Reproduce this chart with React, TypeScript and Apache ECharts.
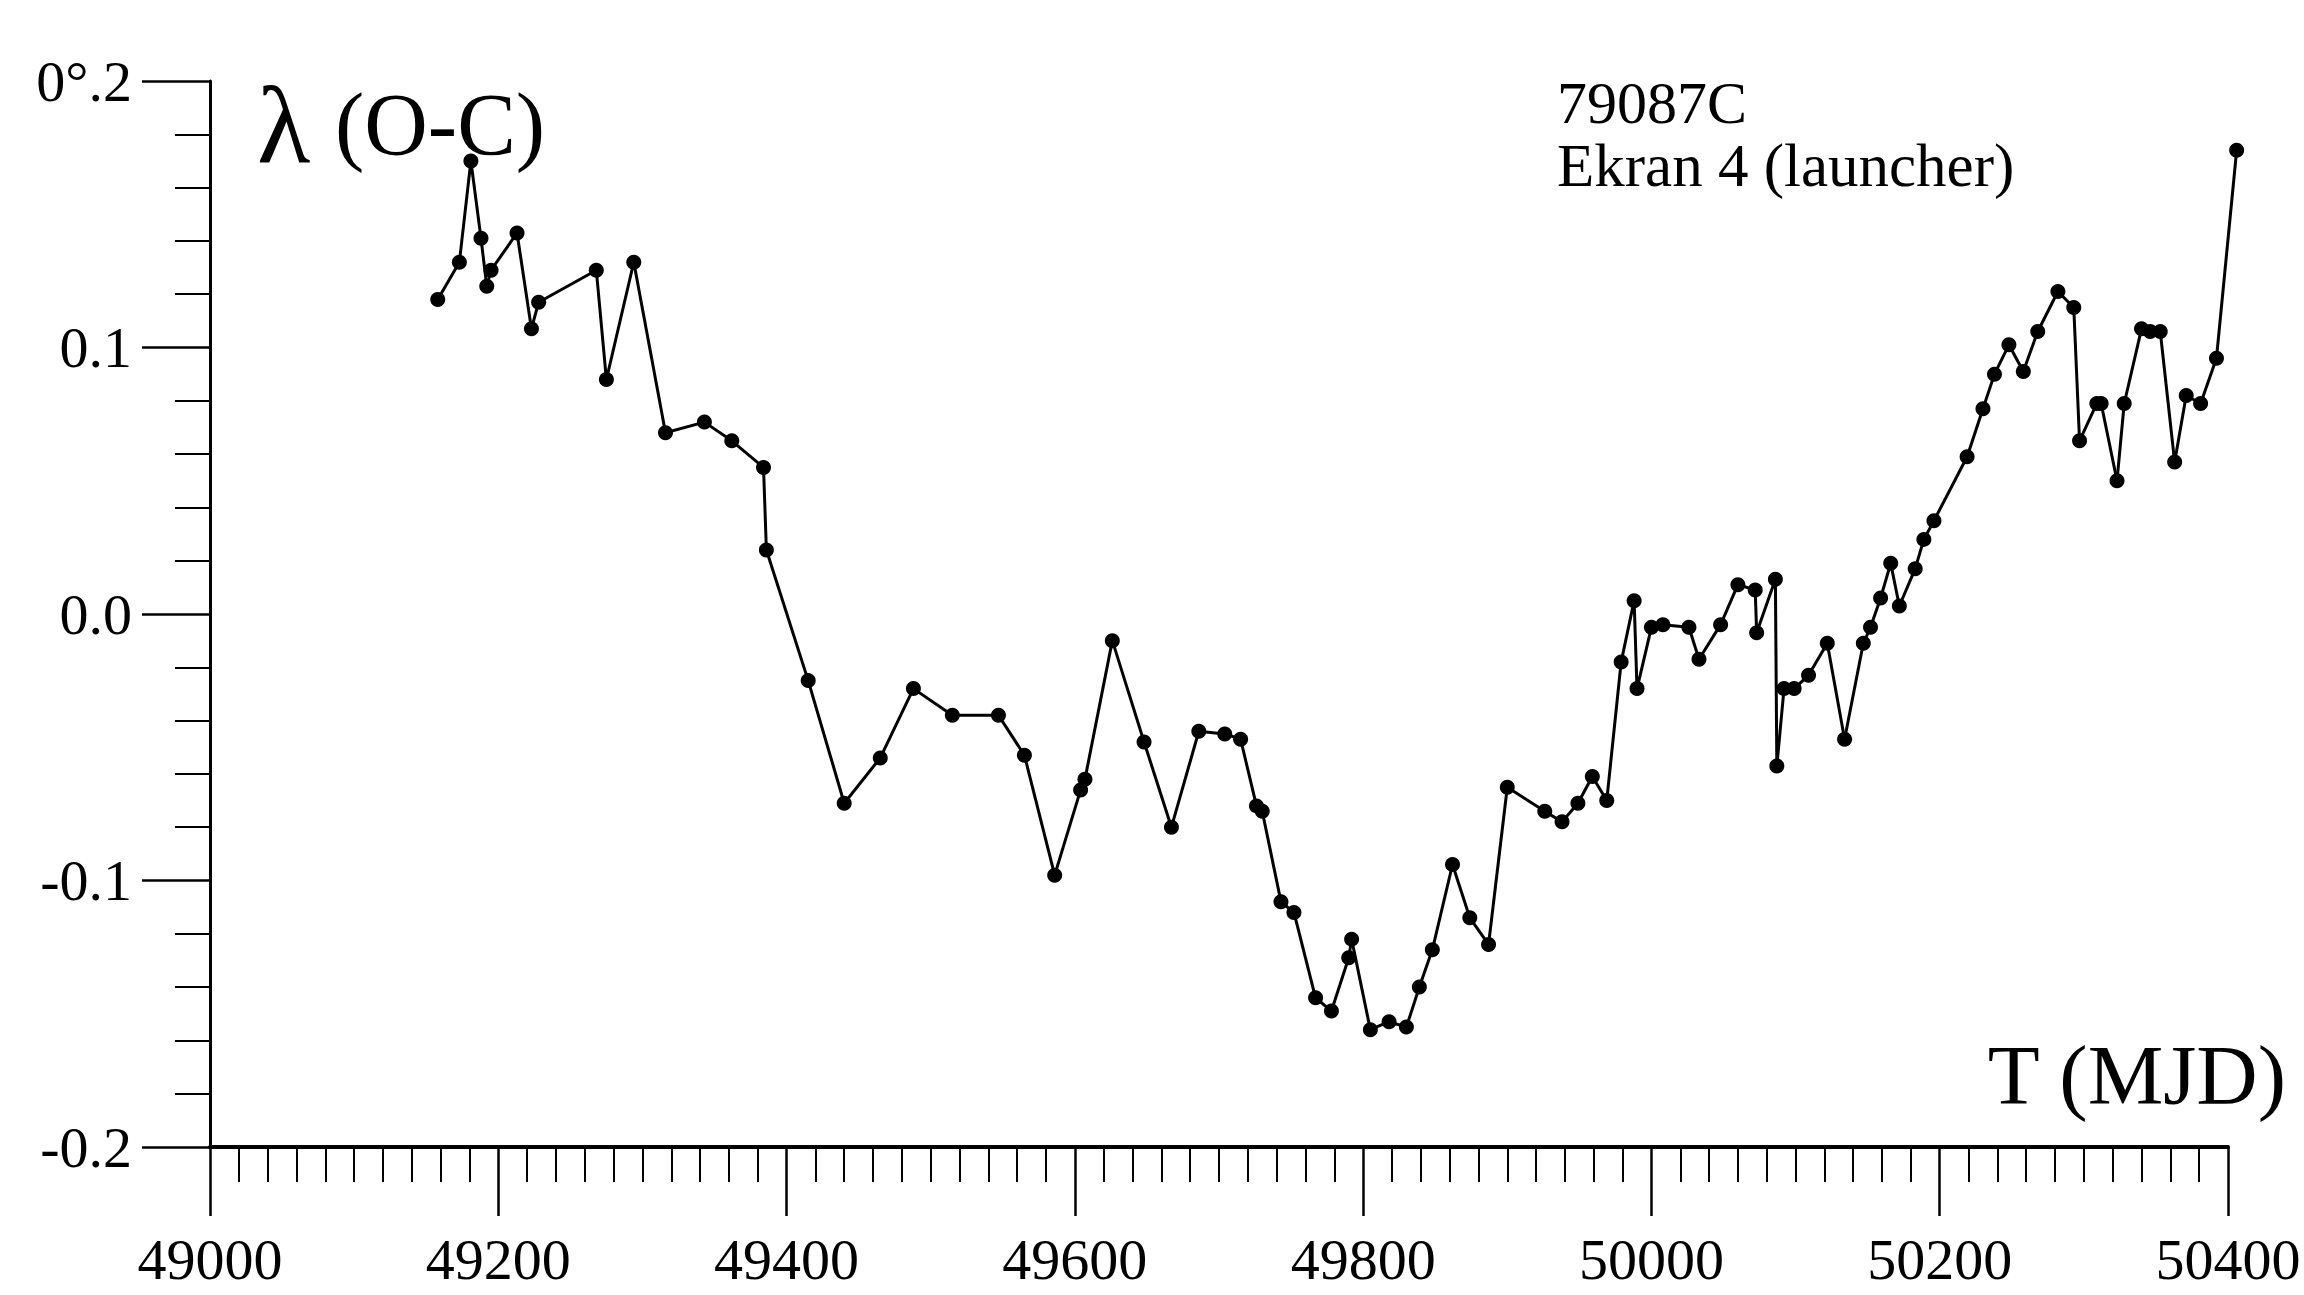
import React, { useEffect, useRef } from "react";
import * as echarts from "echarts";

// Epoch (MJD) of each observation
const MJD: number[] = [
  49158, 49173, 49181, 49188, 49192, 49195, 49213, 49223, 49228, 49268,
  49275, 49294, 49316, 49343, 49362, 49384, 49386, 49415, 49440, 49465,
  49488, 49515, 49547, 49565, 49586, 49604, 49607, 49626, 49648, 49667,
  49686, 49704, 49715, 49726, 49730, 49743, 49752, 49767, 49778, 49790,
  49792, 49805, 49818, 49830, 49839, 49848, 49862, 49874, 49887, 49900,
  49926, 49938, 49949, 49959, 49969, 49979, 49988, 49990, 50000, 50008,
  50026, 50033, 50048, 50060, 50072, 50073, 50086, 50087, 50092, 50099,
  50109, 50122, 50134, 50147, 50152, 50159, 50166, 50172, 50183, 50189,
  50196, 50219, 50230, 50238, 50248, 50258, 50268, 50282, 50293, 50297,
  50309, 50312, 50323, 50328, 50340, 50346, 50353, 50363, 50371, 50381,
  50392, 50406,
];

// lambda (O-C), degrees
const LAMBDA_OC: number[] = [
  0.118, 0.132, 0.170, 0.141, 0.123, 0.129, 0.143, 0.107, 0.117, 0.129,
  0.088, 0.132, 0.068, 0.072, 0.065, 0.055, 0.024, -0.025, -0.071, -0.054,
  -0.028, -0.038, -0.038, -0.053, -0.098, -0.066, -0.062, -0.010, -0.048, -0.080,
  -0.044, -0.045, -0.047, -0.072, -0.074, -0.108, -0.112, -0.144, -0.149, -0.129,
  -0.122, -0.156, -0.153, -0.155, -0.140, -0.126, -0.094, -0.114, -0.124, -0.065,
  -0.074, -0.078, -0.071, -0.061, -0.070, -0.018, 0.005, -0.028, -0.005, -0.004,
  -0.005, -0.017, -0.004, 0.011, 0.009, -0.007, 0.013, -0.057, -0.028, -0.028,
  -0.023, -0.011, -0.047, -0.011, -0.005, 0.006, 0.019, 0.003, 0.017, 0.028,
  0.035, 0.059, 0.077, 0.090, 0.101, 0.091, 0.106, 0.121, 0.115, 0.065,
  0.079, 0.079, 0.050, 0.079, 0.107, 0.106, 0.106, 0.057, 0.082, 0.079,
  0.096, 0.174,
];

const X_MIN = 49000;
const X_MAX = 50400;
const X_STEP = 200;
const Y_MIN = -0.2;
const Y_MAX = 0.2;
const Y_STEP = 0.1;

const Y_TITLE_SYMBOL = "λ";
const Y_TITLE_REST = "(O-C)";
const X_TITLE = "T (MJD)";
const OBJECT_LINES = ["79087C", "Ekran 4 (launcher)"];

const FONT = "'Liberation Serif', 'Times New Roman', serif";

function yLabel(v: number): string {
  // top label carries the degree unit, as in the original figure
  if (Math.abs(v - Y_MAX) < 1e-9) return "0°.2";
  return v.toFixed(1);
}

export default function App() {
  const ref = useRef<HTMLDivElement>(null);

  useEffect(() => {
    if (!ref.current) return;
    const chart = echarts.init(ref.current, null, { renderer: "svg" });
    const data = MJD.map((t, i) => [t, LAMBDA_OC[i]]);

    chart.setOption({
      animation: false,
      backgroundColor: "#ffffff",
      grid: { left: 210, top: 81, width: 2018, height: 1066, containLabel: false },
      xAxis: {
        type: "value",
        min: X_MIN,
        max: X_MAX,
        interval: X_STEP,
        axisLine: { show: true, onZero: false, lineStyle: { color: "#000", width: 4 } },
        axisTick: { show: true, inside: false, length: 69, lineStyle: { color: "#000", width: 2.5 } },
        minorTick: { show: true, splitNumber: 10, length: 35, lineStyle: { color: "#000", width: 2 } },
        splitLine: { show: false },
        minorSplitLine: { show: false },
        axisLabel: {
          margin: 83,
          color: "#000",
          fontFamily: FONT,
          fontSize: 58,
          lineHeight: 58,
          formatter: (v: number) => String(v),
        },
      },
      yAxis: {
        type: "value",
        min: Y_MIN,
        max: Y_MAX,
        interval: Y_STEP,
        axisLine: { show: true, onZero: false, lineStyle: { color: "#000", width: 3 } },
        axisTick: { show: true, inside: false, length: 68, lineStyle: { color: "#000", width: 2.5 } },
        minorTick: { show: true, splitNumber: 5, length: 35, lineStyle: { color: "#000", width: 2 } },
        splitLine: { show: false },
        minorSplitLine: { show: false },
        axisLabel: {
          margin: 78,
          color: "#000",
          fontFamily: FONT,
          fontSize: 58,
          lineHeight: 58,
          formatter: yLabel,
        },
      },
      series: [
        {
          type: "custom",
          clip: false,
          silent: true,
          data,
          encode: { x: 0, y: 1 },
          renderItem: (params: any, api: any) => {
            const i = params.dataIndex;
            const cur = api.coord([api.value(0), api.value(1)]);
            const children: any[] = [];
            if (i > 0) {
              const prev = api.coord([MJD[i - 1], LAMBDA_OC[i - 1]]);
              children.push({
                type: "line",
                shape: { x1: prev[0], y1: prev[1], x2: cur[0], y2: cur[1] },
                style: { stroke: "#000", lineWidth: 3 },
              });
            }
            children.push({
              type: "circle",
              shape: { cx: cur[0], cy: cur[1], r: 7.5 },
              style: { fill: "#000" },
            });
            return { type: "group", children };
          },
        },
      ],
      graphic: [
        {
          type: "text",
          x: 257,
          y: 126,
          style: {
            text: Y_TITLE_SYMBOL,
            fontFamily: FONT,
            fontSize: 110,
            fill: "#000",
            align: "left",
            verticalAlign: "middle",
          },
        },
        {
          type: "text",
          x: 335,
          y: 124,
          style: {
            text: Y_TITLE_REST,
            fontFamily: FONT,
            fontSize: 88,
            fill: "#000",
            align: "left",
            verticalAlign: "middle",
          },
        },
        {
          type: "text",
          x: 2286,
          y: 1075,
          style: {
            text: X_TITLE,
            fontFamily: FONT,
            fontSize: 85,
            fill: "#000",
            align: "right",
            verticalAlign: "middle",
          },
        },
        {
          type: "text",
          x: 1557,
          y: 103,
          style: {
            text: OBJECT_LINES[0],
            fontFamily: FONT,
            fontSize: 60,
            fill: "#000",
            align: "left",
            verticalAlign: "middle",
          },
        },
        {
          type: "text",
          x: 1557,
          y: 165,
          style: {
            text: OBJECT_LINES[1],
            fontFamily: FONT,
            fontSize: 61,
            fill: "#000",
            align: "left",
            verticalAlign: "middle",
          },
        },
      ],
    });

    return () => chart.dispose();
  }, []);

  return (
    <div
      ref={ref}
      style={{ position: "fixed", left: 0, top: 0, width: 2304, height: 1295, background: "#fff" }}
    />
  );
}
